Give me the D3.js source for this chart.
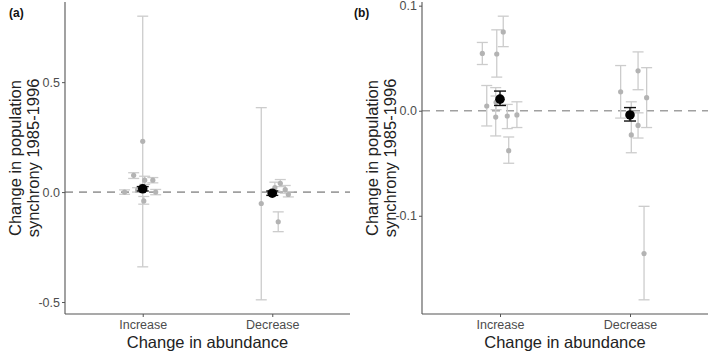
<!DOCTYPE html>
<html>
<head>
    <meta charset="utf-8">
    <title>Change in population synchrony</title>
    <script src="https://d3js.org/d3.v7.min.js"></script>
    <style>
        body { margin: 0; background: #fff; }
        text { font-family: "Liberation Sans", Arial, sans-serif; }
    </style>
</head>
<body>
    <svg width="709" height="352"></svg>
    <script>
        // Categories on the x axis
        const categories = ["Increase", "Decrease"];

        // Panel (a): individual estimates (group 1 = Increase, 2 = Decrease)
        const aGroup  = [1, 1, 1, 1, 1, 1, 1, 1, 2, 2, 2, 2, 2, 2];
        const aJitter = [0, -0.07, 0.015, 0.078, -0.14, 0.1, 0.008, -0.04, -0.085, 0.046, 0.062, 0.1, 0.124, 0.02];
        const aEst    = [0.231, 0.076, 0.054, 0.054, 0.0, 0.0, -0.04, 0.01, -0.052, -0.135, 0.04, 0.011, -0.011, 0.02];
        const aLo     = [-0.34, 0.062, 0.035, 0.042, -0.01, -0.012, -0.055, 0.0, -0.49, -0.18, 0.025, -0.005, -0.022, 0.005];
        const aHi     = [0.80, 0.088, 0.072, 0.066, 0.01, 0.012, -0.02, 0.02, 0.384, -0.09, 0.057, 0.03, 0.002, 0.045];
        // Panel (a): group means
        const aMeanEst = [0.015, -0.005];
        const aMeanLo  = [0.005, -0.015];
        const aMeanHi  = [0.025, 0.005];

        // Panel (b): individual estimates
        const bGroup  = [1, 1, 1, 1, 1, 1, 1, 1, 1, 2, 2, 2, 2, 2, 2];
        const bJitter = [-0.136, -0.025, 0.025, -0.102, -0.033, -0.03, 0.056, 0.067, 0.13, -0.072, 0.062, 0.128, 0.01, 0.062, 0.108];
        const bEst    = [0.0545, 0.054, 0.075, 0.0045, -0.006, 0.008, -0.005, -0.038, -0.004, 0.018, 0.038, 0.0124, -0.023, -0.014, -0.136];
        const bLo     = [0.044, 0.032, 0.061, -0.0145, -0.024, 0.001, -0.017, -0.050, -0.016, -0.007, 0.020, -0.016, -0.040, -0.026, -0.180];
        const bHi     = [0.065, 0.077, 0.090, 0.024, 0.022, 0.014, 0.006, -0.025, 0.0085, 0.043, 0.056, 0.041, 0.0085, -0.002, -0.091];
        // Panel (b): group means
        const bMeanEst = [0.011, -0.004];
        const bMeanLo  = [0.005, -0.0098];
        const bMeanHi  = [0.0187, 0.003];

        const aTicks = [-0.5, 0, 0.5];
        const bTicks = [-0.1, 0, 0.1];

        const svg = d3.select("svg");

        function panel(opt) {
            const g = svg.append("g");
            const pts = opt.group.map((gr, i) => ({
                x: gr + opt.jitter[i], est: opt.est[i], lo: opt.lo[i], hi: opt.hi[i]
            }));
            const means = opt.meanEst.map((e, i) => ({
                x: i + 1, est: e, lo: opt.meanLo[i], hi: opt.meanHi[i]
            }));

            // ggplot-like 5% expansion of the data range
            const lo = d3.min(opt.lo), hi = d3.max(opt.hi);
            const pad = (hi - lo) * 0.05;
            const y = d3.scaleLinear().domain([lo - pad, hi + pad]).range([opt.bottom, opt.top]);
            const x = d3.scaleLinear().domain([0.4, 2.6]).range([opt.left, opt.right]);

            // Reference line at zero
            g.append("line")
                .attr("x1", opt.left).attr("x2", opt.right)
                .attr("y1", y(0)).attr("y2", y(0))
                .attr("stroke", "#a0a0a0")
                .attr("stroke-width", 1.7)
                .attr("stroke-dasharray", "8,6");

            // Error bars with caps
            function bars(data, color, width, cap) {
                const eb = g.append("g").attr("stroke", color).attr("stroke-width", width);
                eb.selectAll(".v").data(data).join("line")
                    .attr("x1", d => x(d.x)).attr("x2", d => x(d.x))
                    .attr("y1", d => y(d.lo)).attr("y2", d => y(d.hi));
                eb.selectAll(".t").data(data).join("line")
                    .attr("x1", d => x(d.x) - cap).attr("x2", d => x(d.x) + cap)
                    .attr("y1", d => y(d.hi)).attr("y2", d => y(d.hi));
                eb.selectAll(".b").data(data).join("line")
                    .attr("x1", d => x(d.x) - cap).attr("x2", d => x(d.x) + cap)
                    .attr("y1", d => y(d.lo)).attr("y2", d => y(d.lo));
            }

            bars(pts, "#cccccc", 1.3, 5.5);
            g.selectAll(".pt").data(pts).join("circle")
                .attr("cx", d => x(d.x)).attr("cy", d => y(d.est))
                .attr("r", 2.6).attr("fill", "#b3b3b3");

            bars(means, "#111", 1.4, 6);
            g.selectAll(".mean").data(means).join("circle")
                .attr("cx", d => x(d.x)).attr("cy", d => y(d.est))
                .attr("r", 4.8).attr("fill", "#000");

            // Axes
            const yAxis = g.append("g")
                .attr("transform", `translate(${opt.left},0)`)
                .call(d3.axisLeft(y).tickValues(opt.ticks).tickFormat(d => d.toFixed(1)).tickSize(3).tickPadding(2));
            const xAxis = g.append("g")
                .attr("transform", `translate(0,${opt.bottom})`)
                .call(d3.axisBottom(x).tickValues([1, 2]).tickFormat(d => categories[d - 1]).tickSize(3).tickPadding(3));
            [yAxis, xAxis].forEach(ax => {
                ax.select(".domain").attr("stroke", "#555").attr("stroke-width", 1.1);
                ax.selectAll(".tick line").attr("stroke", "#555");
                ax.selectAll(".tick text").attr("fill", "#4d4d4d").style("font-size", "12.5px");
            });
            yAxis.select(".domain").attr("d", `M0,${opt.bottom}V${opt.top}`);
            xAxis.select(".domain").attr("d", `M${opt.left},0H${opt.right}`);

            // Axis titles
            g.append("text")
                .attr("x", (opt.left + opt.right) / 2).attr("y", 348)
                .attr("text-anchor", "middle")
                .style("font-size", "16.5px").attr("fill", "#222")
                .text("Change in abundance");
            const cy = (opt.top + opt.bottom) / 2;
            g.append("text")
                .attr("transform", `translate(${opt.left - 44},${cy}) rotate(-90)`)
                .attr("text-anchor", "middle")
                .style("font-size", "16.5px").attr("fill", "#222")
                .text("Change in population");
            g.append("text")
                .attr("transform", `translate(${opt.left - 26},${cy}) rotate(-90)`)
                .attr("text-anchor", "middle")
                .style("font-size", "16.5px").attr("fill", "#222")
                .text("synchrony 1985-1996");

            // Panel tag
            g.append("text")
                .attr("x", opt.tagX).attr("y", 17)
                .style("font-size", "12px").style("font-weight", "bold").attr("fill", "#111")
                .text(opt.tag);
        }

        panel({
            group: aGroup, jitter: aJitter, est: aEst, lo: aLo, hi: aHi,
            meanEst: aMeanEst, meanLo: aMeanLo, meanHi: aMeanHi,
            ticks: aTicks, left: 65, right: 350, top: 2, bottom: 314,
            tag: "(a)", tagX: 9
        });
        panel({
            group: bGroup, jitter: bJitter, est: bEst, lo: bLo, hi: bHi,
            meanEst: bMeanEst, meanLo: bMeanLo, meanHi: bMeanHi,
            ticks: bTicks, left: 422, right: 708, top: 2, bottom: 314,
            tag: "(b)", tagX: 354
        });
    </script>
</body>
</html>
